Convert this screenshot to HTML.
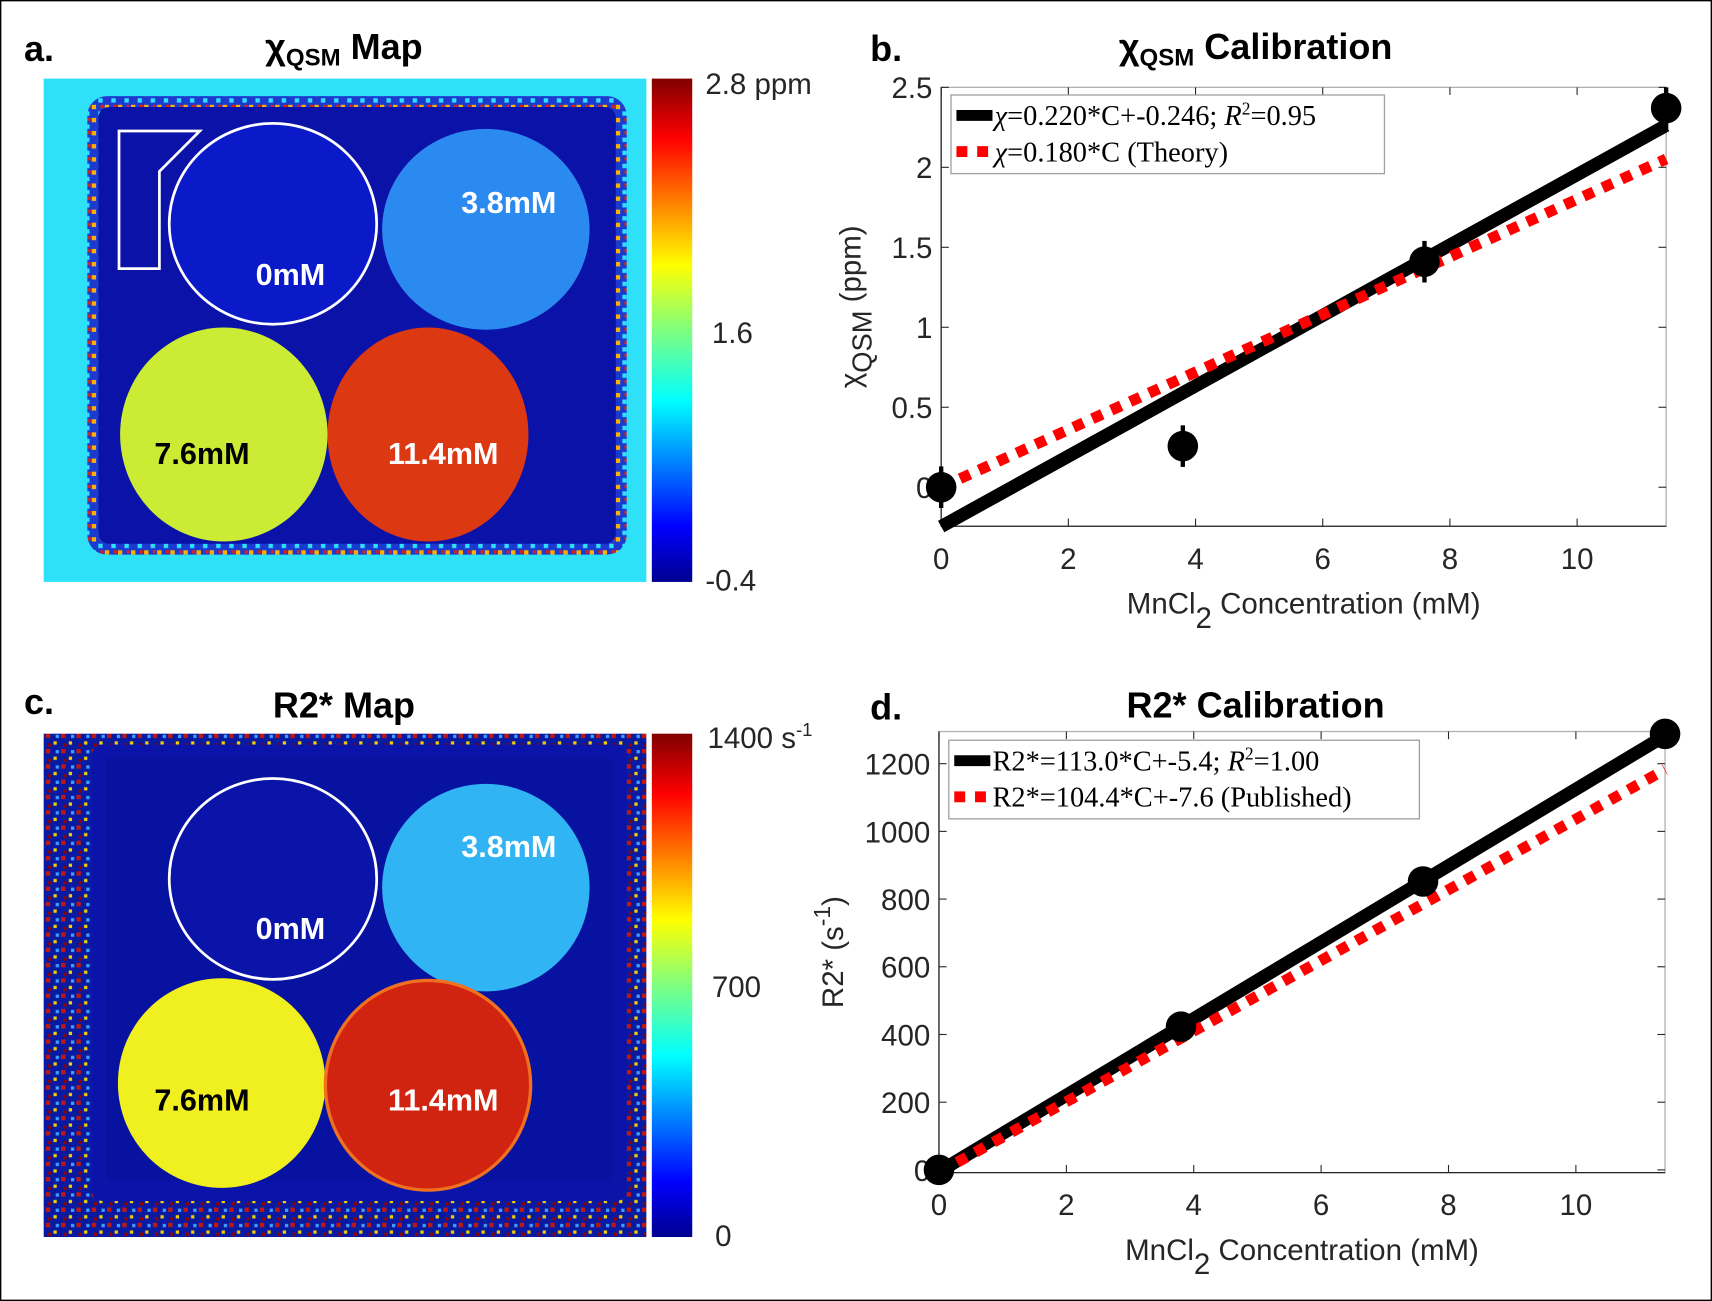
<!DOCTYPE html>
<html><head><meta charset="utf-8">
<style>
html,body{margin:0;padding:0;background:#fff;}
svg{display:block;}
.tk{font-family:"Liberation Sans",sans-serif;font-size:27px;fill:#262626;}
.lg{font-family:"Liberation Serif",serif;font-size:26px;fill:#000;}
.ttl{font-family:"Liberation Sans",sans-serif;font-weight:bold;font-size:33px;fill:#000;}
.map{font-family:"Liberation Sans",sans-serif;font-weight:bold;font-size:28px;}
</style></head>
<body>
<svg id="fig" width="1712" height="1301" viewBox="0 0 1568 1191.6" preserveAspectRatio="none" xmlns="http://www.w3.org/2000/svg">
<defs>
<linearGradient id="jet" x1="0" y1="1" x2="0" y2="0">
<stop offset="0" stop-color="#00008f"/><stop offset="0.11" stop-color="#0000ff"/>
<stop offset="0.36" stop-color="#00ffff"/><stop offset="0.5" stop-color="#7fff7f"/>
<stop offset="0.63" stop-color="#ffff00"/><stop offset="0.88" stop-color="#ff0000"/>
<stop offset="1" stop-color="#800000"/></linearGradient>
<pattern id="noiseA" width="12" height="12" patternUnits="userSpaceOnUse">
<rect width="12" height="12" fill="#1a3ad0"/><rect x="0" y="0" width="4" height="4" fill="#ffb000"/><rect x="6" y="6" width="4" height="4" fill="#30e0ff"/><rect x="8" y="0" width="3" height="3" fill="#e02010"/></pattern>
<pattern id="noiseC" width="14" height="14" patternUnits="userSpaceOnUse">
<rect width="14" height="14" fill="#0a1aa0"/><rect x="0" y="0" width="4" height="4" fill="#c01810"/><rect x="7" y="7" width="3" height="3" fill="#f0d000"/><rect x="9" y="1" width="3" height="3" fill="#40a0ff"/><rect x="2" y="9" width="3" height="3" fill="#900000"/></pattern>
</defs>
<rect x="0.5" y="0.5" width="1567" height="1190.6" fill="#fff" stroke="#000" stroke-width="1.5"/>

<!-- Panel a -->
<g>
<text class="ttl" x="22" y="56" font-size="38">a.</text>
<text class="ttl" x="315" y="54" text-anchor="middle">χ<tspan font-size="22" dy="6">QSM</tspan><tspan dy="-6"> Map</tspan></text>
<rect x="40" y="72" width="552" height="461" fill="#2ee0f8"/>
<rect x="80" y="88" width="494" height="420" rx="18" fill="url(#noiseA)"/>
<rect x="90" y="98" width="474" height="400" rx="10" fill="#0a12a8"/>
<ellipse cx="250" cy="205" rx="95" ry="92" fill="#0a1ac8" stroke="#fff" stroke-width="2.5"/>
<ellipse cx="445" cy="210" rx="95" ry="92" fill="#2a8af0"/>
<ellipse cx="205" cy="398" rx="95" ry="98" fill="#cceb34"/>
<ellipse cx="392" cy="398" rx="92" ry="98" fill="#dc3812"/>
<polygon points="109,120 183,120 146,157 146,246 109,246" fill="none" stroke="#fff" stroke-width="2.5"/>
<text class="map" x="466" y="195" fill="#fff" text-anchor="middle">3.8mM</text>
<text class="map" x="266" y="261" fill="#fff" text-anchor="middle">0mM</text>
<text class="map" x="185" y="425" fill="#000" text-anchor="middle">7.6mM</text>
<text class="map" x="406" y="425" fill="#fff" text-anchor="middle">11.4mM</text>
<rect x="597" y="72" width="37" height="461" fill="url(#jet)"/>
<text class="tk" x="646" y="86" font-size="28" fill="#000">2.8 ppm</text>
<text class="tk" x="652" y="314" font-size="28" fill="#000">1.6</text>
<text class="tk" x="646" y="541" font-size="28" fill="#000">-0.4</text>
</g>

<!-- Panel c -->
<g>
<text class="ttl" x="22" y="654" font-size="38">c.</text>
<text class="ttl" x="315" y="657" text-anchor="middle">R2* Map</text>
<rect x="40" y="672" width="552" height="461" fill="url(#noiseC)"/>
<rect x="84" y="682" width="490" height="418" rx="10" fill="#0a14a8"/>
<rect x="98" y="694" width="462" height="388" fill="#0812a0"/>
<ellipse cx="250" cy="805" rx="95" ry="92" fill="#0a14a8" stroke="#fff" stroke-width="2.5"/>
<ellipse cx="445" cy="813" rx="95" ry="95" fill="#30b4f4"/>
<ellipse cx="203" cy="992" rx="95" ry="96" fill="#f0f020"/>
<ellipse cx="392" cy="994" rx="94" ry="96" fill="#d02410" stroke="#f07020" stroke-width="3"/>
<text class="map" x="466" y="785" fill="#fff" text-anchor="middle">3.8mM</text>
<text class="map" x="266" y="860" fill="#fff" text-anchor="middle">0mM</text>
<text class="map" x="185" y="1017" fill="#000" text-anchor="middle">7.6mM</text>
<text class="map" x="406" y="1017" fill="#fff" text-anchor="middle">11.4mM</text>
<rect x="597" y="672" width="37" height="461" fill="url(#jet)"/>
<text class="tk" x="648" y="685" font-size="28" fill="#000">1400 s<tspan font-size="17" dy="-11">-1</tspan></text>
<text class="tk" x="652" y="913" font-size="28" fill="#000">700</text>
<text class="tk" x="655" y="1141" font-size="28" fill="#000">0</text>
</g>

<g id="chartB"></g>
<g id="chartD"></g>
</svg>
<script>
const NS="http://www.w3.org/2000/svg";
// Chart b data
const bConc=[0,3.8,7.6,11.4];
const bChi=[0,0.257,1.41,2.37];
const bErr=[0.13,0.13,0.13,0.13];
const bFit=[0.220,-0.246];
const bTheory=[0.180,0];
const bXTicks=[0,2,4,6,8,10];
const bYTicks=[0,0.5,1,1.5,2,2.5];
const bYTickLabels=["0","0.5","1","1.5","2","2.5"];
// Chart d data
const dConc=[0,3.8,7.6,11.4];
const dR2=[0,423,852,1288];
const dFit=[113.0,-5.4];
const dPub=[104.4,-7.6];
const dXTicks=[0,2,4,6,8,10];
const dYTicks=[0,200,400,600,800,1000,1200];

function el(parent,tag,attrs){const e=document.createElementNS(NS,tag);for(const k in attrs)e.setAttribute(k,attrs[k]);parent.appendChild(e);return e;}

function chart(g,cfg){
  const sx=v=>cfg.L+(v-cfg.xmin)/(cfg.xmax-cfg.xmin)*(cfg.R-cfg.L);
  const sy=v=>cfg.B-(v-cfg.ymin)/(cfg.ymax-cfg.ymin)*(cfg.B-cfg.T);
  const box=el(g,'rect',{x:cfg.L,y:cfg.T,width:cfg.R-cfg.L,height:cfg.B-cfg.T,fill:'#fff',stroke:'#b0b0b0','stroke-width':1.2});
  
  
  el(g,'line',{x1:cfg.L,y1:cfg.T,x2:cfg.L,y2:cfg.B,stroke:'#262626','stroke-width':1.2});
  el(g,'line',{x1:cfg.L,y1:cfg.B,x2:cfg.R,y2:cfg.B,stroke:'#262626','stroke-width':1.2});
  cfg.xt.forEach(v=>{
    const x=sx(v);
    el(g,'line',{x1:x,y1:cfg.B,x2:x,y2:cfg.B-7,stroke:'#262626','stroke-width':1});
    el(g,'line',{x1:x,y1:cfg.T,x2:x,y2:cfg.T+7,stroke:'#262626','stroke-width':1});
    const t=el(g,'text',{x:x,y:cfg.B+39,'text-anchor':'middle',class:'tk'});t.textContent=String(v);
    
    
  });
  cfg.yt.forEach((v,i)=>{
    const y=sy(v);
    el(g,'line',{x1:cfg.L,y1:y,x2:cfg.L+7,y2:y,stroke:'#262626','stroke-width':1});
    el(g,'line',{x1:cfg.R,y1:y,x2:cfg.R-7,y2:y,stroke:'#262626','stroke-width':1});
    const t=el(g,'text',{x:cfg.L-8,y:y+10,'text-anchor':'end',class:'tk'});t.textContent=cfg.ytl?cfg.ytl[i]:String(v);
    
    
  });
  const f=el(g,'line',{x1:sx(0),y1:sy(cfg.fit[1]),x2:sx(cfg.xmax),y2:sy(cfg.fit[0]*cfg.xmax+cfg.fit[1]),stroke:'#000','stroke-width':12});
  
  
  const r=el(g,'line',{x1:sx(0),y1:sy(cfg.ref[1]),x2:sx(cfg.xmax),y2:sy(cfg.ref[0]*cfg.xmax+cfg.ref[1]),stroke:'#ff0000','stroke-width':10,'stroke-dasharray':'10 9'});
  
  
  cfg.xs.forEach((x,i)=>{
    if(cfg.err){
      const e=el(g,'line',{x1:sx(x),y1:sy(cfg.ys[i]-cfg.err[i]),x2:sx(x),y2:sy(cfg.ys[i]+cfg.err[i]),stroke:'#000','stroke-width':4});
      
      
    }
    const c=el(g,'ellipse',{cx:sx(x),cy:sy(cfg.ys[i]),rx:14,ry:14,fill:'#000'});
    
    
  });
  const lg=el(g,'g',{});
  
  
  el(lg,'rect',{x:cfg.lg[0],y:cfg.lg[1],width:cfg.lg[2],height:cfg.lg[3],fill:'#fff',stroke:'#a0a0a0','stroke-width':1.2});
  const y1=cfg.lg[1]+cfg.lg[3]*0.26, y2=cfg.lg[1]+cfg.lg[3]*0.72;
  el(lg,'line',{x1:cfg.lg[0]+5,y1:y1,x2:cfg.lg[0]+38,y2:y1,stroke:'#000','stroke-width':10});
  el(lg,'line',{x1:cfg.lg[0]+5,y1:y2,x2:cfg.lg[0]+38,y2:y2,stroke:'#f00','stroke-width':10,'stroke-dasharray':'10 9'});
  const t1=el(lg,'text',{x:cfg.lg[0]+40,y:y1+9,class:'lg'});t1.innerHTML=cfg.l1;
  
  
  const t2=el(lg,'text',{x:cfg.lg[0]+40,y:y2+9,class:'lg'});t2.innerHTML=cfg.l2;
  
  
  const xl=el(g,'text',{x:(cfg.L+cfg.R)/2,y:cfg.B+80,'text-anchor':'middle',class:'tk','font-size':33});
  xl.innerHTML='MnCl<tspan dy="13" font-size="27">2</tspan><tspan dy="-13"> Concentration (mM)</tspan>';
  
  
  const yl=el(g,'text',{x:0,y:0,'text-anchor':'middle',class:'tk','font-size':33,transform:`translate(${cfg.yLabX},${(cfg.T+cfg.B)/2}) rotate(-90)`});
  yl.innerHTML=cfg.ylab;
  
  
  const tt=el(g,'text',{x:cfg.titleX,y:cfg.titleY,'text-anchor':'middle',class:'ttl'});tt.innerHTML=cfg.title;
  
  
  const pl=el(g,'text',{x:797,y:cfg.titleY+2,class:'ttl','font-size':38});pl.textContent=cfg.panel;
  
  
}
chart(document.getElementById('chartB'),{L:862,R:1526,T:80,B:482,xmin:0,xmax:11.4,ymin:-0.244,ymax:2.5,
  xt:bXTicks,yt:bYTicks,ytl:bYTickLabels,xs:bConc,ys:bChi,err:bErr,fit:bFit,ref:bTheory,
  lg:[871,87,397,72],
  l1:'<tspan font-style="italic">χ</tspan>=0.220*C+-0.246; <tspan font-style="italic">R</tspan><tspan dy="-10" font-size="16">2</tspan><tspan dy="10">=0.95</tspan>',
  l2:'<tspan font-style="italic">χ</tspan>=0.180*C (Theory)',
  ylab:'χ<tspan dy="10" font-size="25">QSM</tspan><tspan dy="-10"> (ppm)</tspan>',yLabX:788,
  title:'χ<tspan font-size="22" dy="6">QSM</tspan><tspan dy="-6"> Calibration</tspan>',titleX:1150,titleY:54,panel:'b.'});
chart(document.getElementById('chartD'),{L:860,R:1525,T:670,B:1074,xmin:0,xmax:11.4,ymin:-8,ymax:1295,
  xt:dXTicks,yt:dYTicks,xs:dConc,ys:dR2,err:null,fit:dFit,ref:dPub,
  lg:[869,678,431,72],
  l1:'R2*=113.0*C+-5.4; <tspan font-style="italic">R</tspan><tspan dy="-10" font-size="16">2</tspan><tspan dy="10">=1.00</tspan>',
  l2:'R2*=104.4*C+-7.6 (Published)',
  ylab:'R2* (s<tspan dy="-12" font-size="21">-1</tspan><tspan dy="12">)</tspan>',yLabX:772,
  title:'R2* Calibration',titleX:1150,titleY:657,panel:'d.'});
</script>
</body></html>
